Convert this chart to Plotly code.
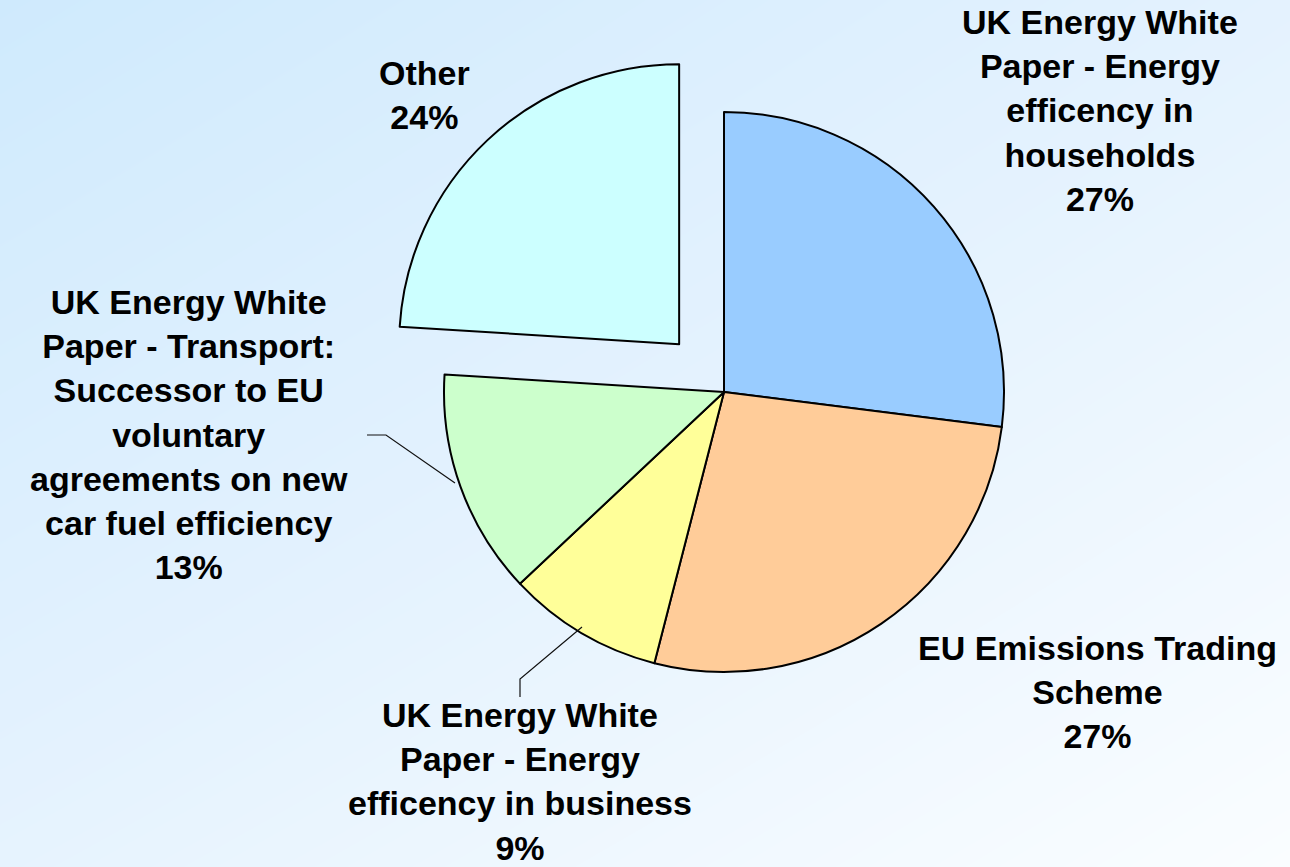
import plotly.graph_objects as go

# ---- data ----
categories = [
    "UK Energy White<br>Paper - Energy<br>efficency in<br>households",
    "EU Emissions Trading<br>Scheme",
    "UK Energy White<br>Paper - Energy<br>efficency in business",
    "UK Energy White<br>Paper - Transport:<br>Successor to EU<br>voluntary<br>agreements on new<br>car fuel efficiency",
    "Other",
]
values = [27, 27, 9, 13, 24]
colors = ["#99CCFF", "#FFCC99", "#FFFF99", "#CCFFCC", "#CCFFFF"]
pulls = [0, 0, 0, 0, 0.234]

# label positions (pixel centres of the label blocks)
label_pos = [(1100, 111), (1097, 692), (520, 781), (189, 434), (425, 95)]

W, H = 1290, 867

fig = go.Figure()

# background gradient
fig.add_trace(go.Heatmap(
    x=[0, 1], y=[0, 1], z=[[0.55, 1.0], [0.0, 0.5]],
    zsmooth="best", showscale=False, hoverinfo="skip",
    colorscale=[[0, "#CFEAFD"], [0.5, "#E4F2FE"], [1, "#FAFDFF"]],
    xaxis="x", yaxis="y",
))

# pie
cx, cy, r = 724, 392, 280
half = r * (1 + max(pulls))
fig.add_trace(go.Pie(
    labels=[c.replace("<br>", " ") for c in categories],
    values=values,
    sort=False, direction="clockwise", rotation=0,
    marker=dict(colors=colors, line=dict(color="black", width=2)),
    pull=pulls, textinfo="none", hoverinfo="skip", showlegend=False,
    domain=dict(x=[(cx - half) / W, (cx + half) / W],
                y=[(H - cy - half) / H, (H - cy + half) / H]),
))

annotations = []
for name, v, (px, py) in zip(categories, values, label_pos):
    annotations.append(dict(
        text=f"<b>{name}<br>{v}%</b>", x=px / W, y=(H - py) / H,
        xref="paper", yref="paper", xanchor="center", yanchor="middle",
        showarrow=False, align="center",
        font=dict(family="Liberation Sans, Arial, sans-serif", size=34, color="black"),
    ))

def p(x, y):
    return f"{x / W:.5f},{(H - y) / H:.5f}"

shapes = [
    dict(type="path", xref="paper", yref="paper",
         path=f"M{p(367, 435)} L{p(386, 435)} L{p(455, 483)}",
         line=dict(color="#111111", width=1.2)),
    dict(type="path", xref="paper", yref="paper",
         path=f"M{p(520, 697)} L{p(520, 679)} L{p(582, 627)}",
         line=dict(color="#111111", width=1.2)),
]

fig.update_layout(
    width=W, height=H,
    margin=dict(l=0, r=0, t=0, b=0),
    paper_bgcolor="#E4F2FE", plot_bgcolor="rgba(0,0,0,0)",
    xaxis=dict(range=[0, 1], visible=False, domain=[0, 1], fixedrange=True),
    yaxis=dict(range=[0, 1], visible=False, domain=[0, 1], fixedrange=True),
    annotations=annotations, shapes=shapes,
    hovermode=False, showlegend=False,
)

fig.write_html("out.html", config={"displayModeBar": False},
               post_script="document.body.style.margin='0';document.body.style.overflow='hidden';")
